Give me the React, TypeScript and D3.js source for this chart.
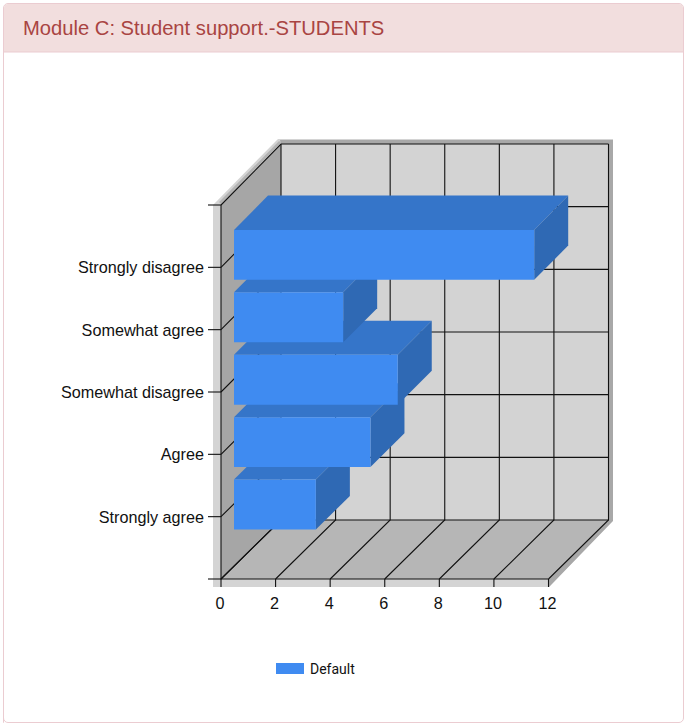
import React from "react";
import * as d3 from "d3";

const categories = ["Strongly agree", "Agree", "Somewhat disagree", "Somewhat agree", "Strongly disagree"];
const values = [3, 5, 6, 4, 11];
const xTicks = [0, 2, 4, 6, 8, 10, 12];
const yTicks = [0, 1, 2, 3, 4, 5, 6];
const title = "Module C: Student support.-STUDENTS";
const legendLabel = "Default";

const x = d3.scaleLinear().domain([0, 12]).range([221, 548.5]);
const y = d3.scaleLinear().domain([0, 6]).range([579, 205]);
const yBack = d3.scaleLinear().domain([0, 6]).range([520, 144]);
const DEPTH = 60;
const BAR_NEAR = 13;
const BAR_FAR = 47;
const HALF = 0.4;
const BAR_NUDGE = 0.7;

const px = (v: number, d: number) => x(v) + d;
const py = (c: number, d: number) => y(c) + ((yBack(c) - y(c)) * d) / DEPTH;
const pt = (v: number, c: number, d: number): [number, number] => [px(v, d), py(c, d)];
const poly = (pts: [number, number][]) => d3.line()(pts)! + "Z";
const UI = "'Liberation Sans', Arial, sans-serif";

export default function App() {
  const L = 0, R = 12, B = 0, T = 6;
  return (
    <svg width={687} height={723} style={{ position: "absolute", left: 0, top: 0, display: "block" }}>
      <rect x={0} y={0} width={687} height={723} fill="#fff" />
      <path d="M3.5 722.5 V8 a4.5 4.5 0 0 1 4.5 -4.5 H679 a4.5 4.5 0 0 1 4.5 4.5 V718 a4.5 4.5 0 0 1 -4.5 4.5 H8 a4.5 4.5 0 0 1 -4.5 -4.5 Z" fill="#fff" stroke="#ebccd1" />
      <path d="M4 52 V8 a4 4 0 0 1 4 -4 H679 a4 4 0 0 1 4 4 V52 Z" fill="#f2dede" />
      <line x1={4} x2={683} y1={52} y2={52} stroke="#ebccd1" />
      <text x={23} y={35} fill="#a94442" fontFamily={UI} fontSize={20.2}>{title}</text>

      {/* plot frame shadow */}
      <path d={poly([[213, 205], [278, 139], [613, 139], [613, 520], [549, 587], [213, 587]])} fill="#d4d4d4" />
      <path d={poly([[280, 140], [613, 140], [613, 521], [549, 587], [549, 579], [608, 520], [608, 144], [281, 144]])} fill="#a8a8a8" />
      <line x1={220} x2={280} y1={203} y2={142} stroke="#b2b2b2" strokeWidth={2.5} />

      {/* walls */}
      <path d={poly([pt(L, B, DEPTH), pt(R, B, DEPTH), pt(R, T, DEPTH), pt(L, T, DEPTH)])} fill="#d3d3d3" />
      <path d={poly([pt(L, B, 0), pt(L, B, DEPTH), pt(L, T, DEPTH), pt(L, T, 0)])} fill="#a6a6a6" />
      <path d={poly([pt(L, B, 0), pt(R, B, 0), pt(R, B, DEPTH), pt(L, B, DEPTH)])} fill="#b6b6b6" />

      {/* grid */}
      <g stroke="#111" strokeWidth={1.1} fill="none">
        {xTicks.map((t) => (
          <path key={"v" + t} d={d3.line()([pt(t, B, 0), pt(t, B, DEPTH), pt(t, T, DEPTH)])!} />
        ))}
        {yTicks.map((t) => (
          <path key={"h" + t} d={d3.line()([pt(L, t, 0), pt(L, t, DEPTH), pt(R, t, DEPTH)])!} />
        ))}
        <path d={d3.line()([pt(L, T, 0), pt(L, B, 0), pt(R, B, 0)])!} />
        {xTicks.map((t) => (
          <line key={"xt" + t} x1={x(t)} x2={x(t)} y1={y(0)} y2={y(0) + 8} />
        ))}
        {yTicks.map((t) => (
          <line key={"yt" + t} x1={x(0) - 13} x2={x(0)} y1={y(t)} y2={y(t)} />
        ))}
      </g>

      {/* bars */}
      <g transform={`translate(0,${BAR_NUDGE})`}>
        {categories.map((c, i) => {
          const v = values[i];
          const c0 = i + 1 - HALF;
          const c1 = i + 1 + HALF;
          return (
            <g key={c}>
              <path d={poly([pt(0, c1, BAR_NEAR), pt(v, c1, BAR_NEAR), pt(v, c1, BAR_FAR), pt(0, c1, BAR_FAR)])} fill="#3575c9" />
              <path d={poly([pt(v, c0, BAR_NEAR), pt(v, c0, BAR_FAR), pt(v, c1, BAR_FAR), pt(v, c1, BAR_NEAR)])} fill="#2f69b4" />
              <path d={poly([pt(0, c0, BAR_NEAR), pt(v, c0, BAR_NEAR), pt(v, c1, BAR_NEAR), pt(0, c1, BAR_NEAR)])} fill="#3f8bf1" />
            </g>
          );
        })}
      </g>

      {/* labels */}
      <g fontFamily={UI} fontSize={16.2} fill="#111">
        {xTicks.map((t) => (
          <text key={t} x={x(t) - 1} y={609} textAnchor="middle">{t}</text>
        ))}
        {categories.map((c, i) => (
          <text key={c} x={204} y={y(i + 1) + 6} textAnchor="end">{c}</text>
        ))}
      </g>

      {/* legend */}
      <rect x={276} y={663} width={28} height={11} fill="#3f8bf1" />
      <text x={310} y={674} fontFamily="Roboto, sans-serif" fontSize={14} fill="#111">{legendLabel}</text>
    </svg>
  );
}
